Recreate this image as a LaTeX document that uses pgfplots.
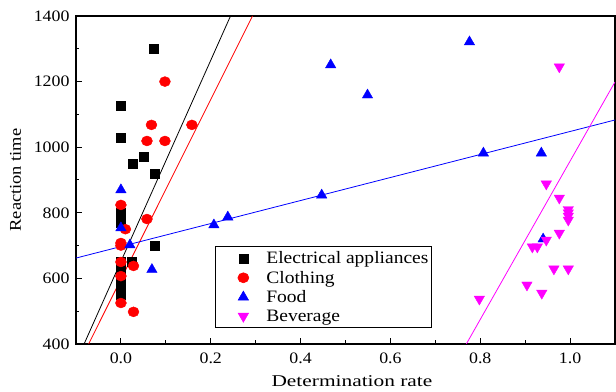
\documentclass[border=0pt]{standalone}
\usepackage{pgfplots}
\pgfplotsset{compat=1.18}
\usepackage{fontspec}
\setmainfont{Liberation Serif}[FakeStretch=1.12]
\newfontfamily\xlabfont{Liberation Serif}[FakeStretch=1.3]
\definecolor{mag}{RGB}{255,0,255}
\definecolor{pblue}{RGB}{0,0,255}
\definecolor{pred}{RGB}{255,0,0}
\begin{document}
\begin{tikzpicture}
\begin{axis}[
  width=539bp, height=328bp, scale only axis,
  xmin=-0.1, xmax=1.1, ymin=400, ymax=1400,
  xtick={0,0.2,0.4,0.6,0.8,1.0}, minor x tick num=1,
  ytick={400,600,800,1000,1200,1400}, minor y tick num=1,
  tick align=inside, xtick pos=bottom, ytick pos=left,
  major tick length=6bp, minor tick length=3.5bp,
  axis line style={line width=1.2bp},
  tick style={line width=1bp, black},
  xticklabel style={/pgf/number format/fixed, /pgf/number format/fixed zerofill, /pgf/number format/precision=1},
  xticklabel style={yshift=-5bp},
  yticklabel style={/pgf/number format/set thousands separator={}},
  yticklabel style={xshift=-3bp},
  /pgf/number format/assume math mode=true,
  tick label style={font=\fontsize{16}{18}\selectfont},
  xlabel={\xlabfont Determination rate},
  ylabel={Reaction time},
  xlabel style={font=\fontsize{16.5}{19}\selectfont, at={(axis description cs:0.512,0)}, anchor=center, yshift=-37bp},
  ylabel style={font=\fontsize{16.5}{19}\selectfont, yshift=6bp},
  legend style={at={(0.258,0.049)}, anchor=south west, draw=black, line width=0.6bp,
    font=\fontsize{17.5}{20}\selectfont, cells={anchor=west}, row sep=1.8bp,
    inner xsep=1bp, inner ysep=3bp},
  legend image code/.code={\path[draw=none,fill=none] (0bp,0bp) -- (48bp,0bp); \path[#1] plot coordinates {(27bp,0bp)};},
]
\coordinate (ll) at (rel axis cs:0,0);
\coordinate (ur) at (rel axis cs:1,1);
\addplot[only marks, mark=square*, mark size=4.5bp, black] coordinates {
 (0,1125) (0,1030) (0,800) (0,770) (0.073,1300) (0.027,950) (0.05,970)
 (0.075,920) (0.075,700) (0.024,650) (0,650) (0,632) (0,604) (0,574) (0,549)
};
\addlegendentry{Electrical appliances}
\addplot[only marks, mark=*, mark size=5bp, pred, mark options={xscale=1.1}] coordinates {
 (0.098,1200) (0.068,1068) (0.158,1068) (0.058,1019) (0.098,1019)
 (0,824) (0.058,781) (0.01,750) (0,708) (0,700) (0,650) (0.028,638)
 (0,607) (0,525) (0.028,498)
};
\addlegendentry{Clothing}
\addplot[only marks, mark=triangle*, mark size=6bp, pblue] coordinates {
 (0,870) (0.776,1321) (0.467,1251) (0.549,1159) (0.807,982) (0.936,982)
 (0.447,854) (0.238,787) (0.207,763) (0,754) (0.02,702) (0.069,627) (0.94,720)
};
\addlegendentry{Food}
\addplot[only marks, mark=triangle*, mark size=6bp, mag, mark options={rotate=180}] coordinates {
 (0.976,1245) (0.947,888) (0.976,845) (0.996,810) (0.996,800) (0.996,790) (0.996,778)
 (0.976,738) (0.947,717) (0.916,696) (0.927,696) (0.964,629) (0.996,629)
 (0.904,580) (0.937,555) (0.798,537)
};
\addlegendentry{Beverage}
\addplot[black, line width=0.8bp, forget plot] coordinates {(-0.082,400) (0.244,1400)};
\addplot[pred, line width=0.8bp, forget plot] coordinates {(-0.072,400) (0.293,1400)};
\addplot[pblue, line width=0.8bp, forget plot] coordinates {(-0.1,662) (1.1,1083)};
\addplot[mag, line width=0.8bp, forget plot] coordinates {(0.769,400) (1.1,1199)};
\end{axis}
\pgfresetboundingbox
\path ([shift={(-76bp,-48bp)}]ll) rectangle ([shift={(1bp,16bp)}]ur);
\end{tikzpicture}
\end{document}
